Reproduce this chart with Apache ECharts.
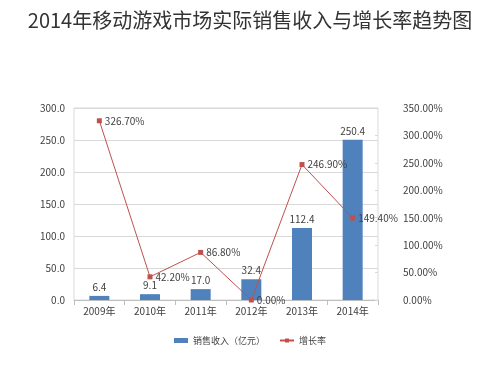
<!DOCTYPE html>
<html><head><meta charset="utf-8">
<script src="https://cdn.jsdelivr.net/npm/echarts@6/dist/echarts.min.js"></script>
<style>html,body{margin:0;padding:0;background:#fff}#c{width:500px;height:368px}</style>
</head><body><div id="c"></div>
<script>
const categories = ['2009年','2010年','2011年','2012年','2013年','2014年'];
const revenue = [6.4, 9.1, 17.0, 32.4, 112.4, 250.4];
const growth = [326.7, 42.2, 86.8, 0.0, 246.9, 149.4];
const titleText = '2014年移动游戏市场实际销售收入与增长率趋势图';
const seriesNames = ['销售收入（亿元）', '增长率'];

const font = "'Noto Sans CJK SC', 'Liberation Sans', sans-serif";
const chart = echarts.init(document.getElementById('c'), null, {renderer:'canvas'});
chart.setOption({
  backgroundColor:'#fff',
  animation:false,
  title:{text:titleText,left:'center',top:5,textStyle:{fontFamily:font,fontSize:20,fontWeight:'normal',color:'#333'}},
  legend:{bottom:18,left:'center',itemWidth:14,itemHeight:5,itemGap:14,
    textStyle:{fontFamily:font,fontSize:9,color:'#444'},
    data:[{name:seriesNames[0],icon:'rect'},{name:seriesNames[1]}]},
  grid:{left:74,right:122,top:108,bottom:68,show:true,borderColor:'#d9d9d9',borderWidth:1},
  xAxis:{type:'category',data:categories,
    axisLine:{lineStyle:{color:'#bfbfbf'}},axisTick:{show:true,alignWithLabel:false,lineStyle:{color:'#bfbfbf'}},
    axisLabel:{fontFamily:font,fontSize:10,color:'#404040',margin:6}},
  yAxis:[
    {type:'value',min:0,max:300,interval:50,
     axisLabel:{formatter:v=>v.toFixed(1),fontFamily:font,fontSize:10,color:'#404040',margin:9},
     axisLine:{show:false},axisTick:{show:false},splitLine:{lineStyle:{color:'#d9d9d9'}}},
    {type:'value',min:0,max:350,interval:50,position:'right',
     axisLabel:{formatter:v=>v.toFixed(2)+'%',fontFamily:font,fontSize:10,color:'#404040',margin:25},
     axisLine:{show:false},axisTick:{show:true,inside:true,length:3,lineStyle:{color:'#d9d9d9'}},splitLine:{show:false}}
  ],
  series:[
    {name:seriesNames[0],type:'bar',data:revenue,barWidth:20,itemStyle:{color:'#4f81bd'},
     label:{show:true,position:'top',formatter:p=>p.value.toFixed(1),fontFamily:font,fontSize:10,color:'#404040',distance:4}},
    {name:seriesNames[1],type:'line',yAxisIndex:1,data:growth,symbol:'rect',symbolSize:5,
     itemStyle:{color:'#c0504d'},lineStyle:{color:'#c0504d',width:1},
     label:{show:true,position:'right',formatter:p=>p.value.toFixed(2)+'%',fontFamily:font,fontSize:10,color:'#404040',distance:3}}
  ]
});
</script></body></html>
